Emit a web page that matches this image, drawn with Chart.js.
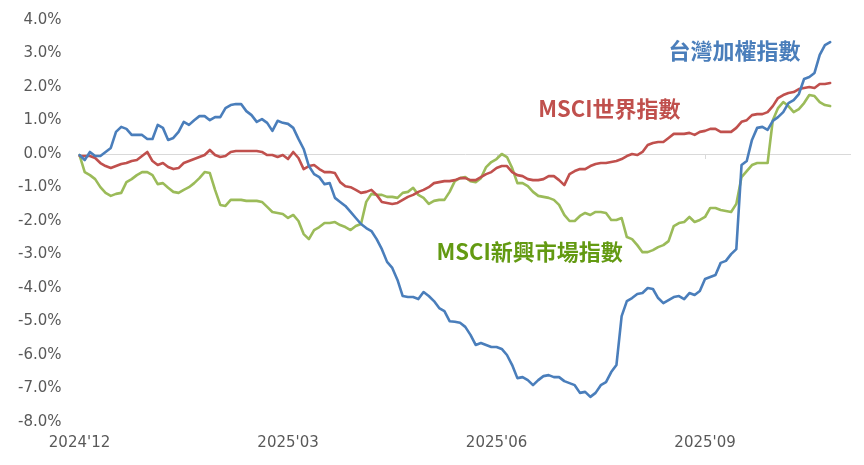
<!DOCTYPE html>
<html><head><meta charset="utf-8">
<script src="https://cdn.jsdelivr.net/npm/chart.js@4.4.1/dist/chart.umd.min.js"></script>
<style>html,body{margin:0;padding:0;background:#fff;}#wrap{width:864px;height:465px;position:relative;}</style>
</head><body><div id="wrap"><canvas id="c"></canvas></div>
<script>
// ---- data ----
const quarterLabels = ["2024'12", "2025'03", "2025'06", "2025'09"];
const samplesPerQuarter = 40;
const totalSlots = 149;
const seriesNames = ["台灣加權指數", "MSCI世界指數", "MSCI新興市場指數"];

const taiex = [
 -0.03,-0.18,0.06,-0.06,-0.06,0.06,0.18,0.66,0.81,0.75,
 0.57,0.57,0.57,0.45,0.45,0.87,0.78,0.42,0.48,0.66,
 0.96,0.87,1.01,1.13,1.13,1.01,1.10,1.10,1.37,1.46,
 1.49,1.49,1.28,1.16,0.96,1.04,0.93,0.69,0.99,0.93,
 0.90,0.78,0.45,0.15,-0.36,-0.60,-0.69,-0.90,-0.87,-1.31,
 -1.43,-1.55,-1.73,-1.91,-2.09,-2.21,-2.30,-2.54,-2.84,-3.22,
 -3.40,-3.76,-4.24,-4.27,-4.27,-4.33,-4.12,-4.24,-4.39,-4.60,
 -4.69,-4.99,-5.01,-5.04,-5.16,-5.40,-5.70,-5.64,-5.70,-5.76,
 -5.76,-5.82,-6.00,-6.30,-6.69,-6.66,-6.75,-6.90,-6.75,-6.63,
 -6.60,-6.66,-6.66,-6.78,-6.84,-6.90,-7.13,-7.10,-7.25,-7.13,
 -6.90,-6.81,-6.51,-6.30,-4.84,-4.39,-4.30,-4.18,-4.15,-4.00,
 -4.03,-4.30,-4.45,-4.36,-4.27,-4.24,-4.33,-4.15,-4.21,-4.09,
 -3.73,-3.67,-3.61,-3.25,-3.19,-2.99,-2.84,-0.33,-0.21,0.42,
 0.78,0.81,0.72,0.99,1.10,1.25,1.52,1.61,1.79,2.24,
 2.30,2.42,2.96,3.25,3.34
];
const msciWorld = [
 -0.06,-0.06,-0.06,-0.12,-0.27,-0.36,-0.42,-0.36,-0.30,-0.27,
 -0.21,-0.18,-0.06,0.06,-0.21,-0.33,-0.27,-0.39,-0.45,-0.42,
 -0.27,-0.21,-0.15,-0.09,-0.03,0.12,-0.03,-0.09,-0.06,0.06,
 0.09,0.09,0.09,0.09,0.09,0.06,-0.03,-0.03,-0.09,-0.03,
 -0.15,0.06,-0.12,-0.45,-0.36,-0.33,-0.45,-0.54,-0.54,-0.57,
 -0.84,-0.96,-0.99,-1.07,-1.16,-1.13,-1.07,-1.22,-1.43,-1.46,
 -1.49,-1.46,-1.37,-1.28,-1.22,-1.13,-1.07,-0.99,-0.87,-0.84,
 -0.81,-0.81,-0.78,-0.72,-0.72,-0.78,-0.78,-0.69,-0.60,-0.54,
 -0.42,-0.36,-0.36,-0.54,-0.63,-0.66,-0.75,-0.78,-0.78,-0.75,
 -0.66,-0.66,-0.78,-0.93,-0.60,-0.51,-0.45,-0.45,-0.36,-0.30,
 -0.27,-0.27,-0.24,-0.21,-0.15,-0.06,0.00,-0.03,0.06,0.27,
 0.33,0.36,0.36,0.48,0.60,0.60,0.60,0.63,0.57,0.66,
 0.69,0.75,0.75,0.66,0.66,0.66,0.78,0.96,1.01,1.16,
 1.19,1.19,1.25,1.43,1.67,1.76,1.82,1.85,1.94,1.97,
 2.00,1.97,2.09,2.09,2.12
];
const msciEM = [
 -0.03,-0.54,-0.63,-0.75,-0.99,-1.16,-1.25,-1.19,-1.16,-0.84,
 -0.75,-0.63,-0.54,-0.54,-0.63,-0.90,-0.87,-1.01,-1.13,-1.16,
 -1.07,-0.99,-0.87,-0.72,-0.54,-0.57,-1.07,-1.52,-1.55,-1.37,
 -1.37,-1.37,-1.40,-1.40,-1.40,-1.43,-1.58,-1.73,-1.76,-1.79,
 -1.91,-1.82,-2.00,-2.39,-2.54,-2.27,-2.18,-2.06,-2.06,-2.03,
 -2.12,-2.18,-2.27,-2.15,-2.09,-1.43,-1.19,-1.22,-1.22,-1.28,
 -1.28,-1.31,-1.16,-1.13,-1.01,-1.22,-1.31,-1.49,-1.40,-1.37,
 -1.37,-1.13,-0.81,-0.72,-0.69,-0.81,-0.84,-0.72,-0.39,-0.24,
 -0.15,0.00,-0.09,-0.42,-0.87,-0.87,-0.96,-1.13,-1.25,-1.28,
 -1.31,-1.37,-1.52,-1.82,-2.00,-2.00,-1.85,-1.76,-1.82,-1.73,
 -1.73,-1.76,-1.97,-1.97,-1.91,-2.48,-2.54,-2.72,-2.93,-2.93,
 -2.87,-2.78,-2.72,-2.60,-2.15,-2.06,-2.03,-1.88,-2.03,-1.97,
 -1.88,-1.61,-1.61,-1.67,-1.70,-1.73,-1.49,-0.69,-0.51,-0.33,
 -0.27,-0.27,-0.27,1.01,1.37,1.55,1.43,1.25,1.34,1.52,
 1.76,1.73,1.55,1.46,1.43
];
// where each series name is written (sample index, value %)
const nameAnchors = [[113, 3.10], [88, 1.34], [68.5, -2.90]];

// ---- build ----
const categories = [];
for (let i = 0; i < totalSlots; i++) {
  categories.push(i % samplesPerQuarter === 0 && quarterLabels[i / samplesPerQuarter] ? quarterLabels[i / samplesPerQuarter] : '');
}
const lineColors = ['#4A7EBB', '#C0504D', '#9BBB59'];
const textColors = ['#4A7EBB', '#C0504D', '#639A12'];
const seriesData = [taiex, msciWorld, msciEM];

const namePlugin = {
  id: 'names',
  beforeDatasetsDraw(chart) {
    const {ctx, scales: {x, y}} = chart;
    const y0 = y.getPixelForValue(0);
    ctx.save();
    ctx.strokeStyle = '#D9D9D9';
    ctx.lineWidth = 1;
    for (let q = 0; q < quarterLabels.length; q++) {
      const px = Math.round(x.getPixelForValue(q * samplesPerQuarter)) + 0.5;
      ctx.beginPath(); ctx.moveTo(px, y0); ctx.lineTo(px, y0 + 5); ctx.stroke();
    }
    ctx.restore();
  },
  afterDatasetsDraw(chart) {
    const {ctx, scales: {x, y}} = chart;
    ctx.save();
    ctx.font = 'bold 22px "Noto Sans CJK TC", "Noto Sans CJK SC", sans-serif';
    ctx.textAlign = 'left';
    ctx.textBaseline = 'middle';
    seriesNames.forEach((n, k) => {
      ctx.fillStyle = textColors[k];
      ctx.fillText(n, x.getPixelForValue(nameAnchors[k][0]), y.getPixelForValue(nameAnchors[k][1]));
    });
    ctx.restore();
  }
};

new Chart(document.getElementById('c'), {
  type: 'line',
  data: {
    labels: categories,
    datasets: seriesNames.map((n, k) => ({
      label: n,
      data: seriesData[k],
      borderColor: lineColors[k],
      backgroundColor: lineColors[k],
      borderWidth: 2.6,
      pointRadius: 0,
      tension: 0,
      fill: false,
      borderJoinStyle: 'round',
      borderCapStyle: 'round'
    }))
  },
  options: {
    responsive: true,
    maintainAspectRatio: false,
    animation: false,
    devicePixelRatio: 1,
    layout: {padding: {left: 0, right: 13, top: 20, bottom: 0}},
    plugins: {legend: {display: false}, tooltip: {enabled: false}},
    scales: {
      x: {
        type: 'category',
        offset: false,
        grid: {display: false, drawTicks: false},
        border: {display: false},
        afterFit: (s) => { s.height = 43; s.paddingLeft = 0; s.paddingRight = 0; },
        ticks: {
          autoSkip: false, maxRotation: 0, minRotation: 0, padding: 12.5,
          color: '#595959', font: {family: 'DejaVu Sans', size: 15},
          callback: (v, i) => categories[i]
        }
      },
      y: {
        min: -8, max: 4,
        afterFit: (s) => { s.paddingTop = 0; s.paddingBottom = 0; },
        grid: {drawTicks: false, color: (c) => c.tick && c.tick.value === 0 ? '#D9D9D9' : 'rgba(0,0,0,0)', lineWidth: 1},
        border: {display: false},
        ticks: {
          stepSize: 1, padding: 18,
          color: '#595959', font: {family: 'DejaVu Sans', size: 15},
          callback: (v) => v.toFixed(1) + '%'
        }
      }
    }
  },
  plugins: [namePlugin]
});
</script>
</body></html>
